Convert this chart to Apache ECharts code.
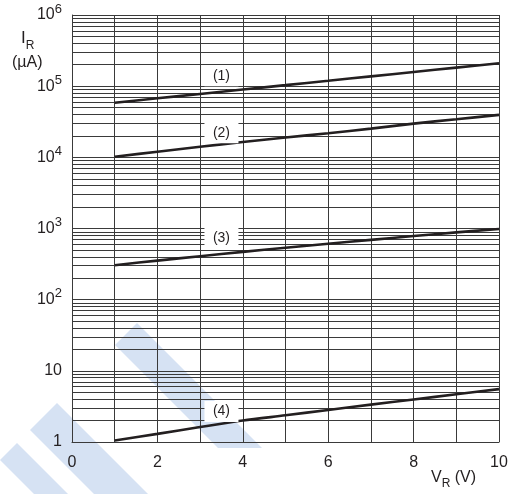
<!DOCTYPE html>
<html><head><meta charset="utf-8">
<script src="https://cdn.jsdelivr.net/npm/echarts@6/dist/echarts.min.js"></script>
<style>html,body{margin:0;padding:0;background:#fff}#c{width:514px;height:494px}</style>
</head><body><div id="c"></div>
<script>
const vr = [1, 2, 3, 4, 5, 6, 7, 8, 9, 10];
const curve1 = [58600, 67600, 77800, 89700, 103300, 119100, 137400, 158100, 182400, 209900];
const curve2 = [10200, 12000, 14100, 16400, 19000, 21800, 25300, 29800, 34300, 39500];
const curve3 = [305, 354, 408, 469, 536, 611, 693, 783, 881, 986];
const curve4 = [1.05, 1.30, 1.62, 2.0, 2.37, 2.82, 3.35, 3.96, 4.68, 5.53];
const curveLabels = ['(1)', '(2)', '(3)', '(4)'];
const labelX = [3.5, 3.5, 3.5, 3.5];
const labelY = [140000, 22200, 731, 2.68];
const yTickLabels = ['{b|1}', '{b|10}', '{b|10}{s|2}', '{b|10}{s|3}', '{b|10}{s|4}', '{b|10}{s|5}', '{b|10}{s|6}'];
const xTickLabels = ['0', '', '2', '', '4', '', '6', '', '8', '', '10'];
const minorMultipliers = [2, 3, 4, 5, 6, 7, 8, 9];
const decades = [1, 10, 100, 1000, 10000, 100000];

const FONT = '"Liberation Sans", Arial, Helvetica, sans-serif';
const INK = '#231f20';
const GRID = '#3a3a3a';
const WM = '#d6e2f3';

const minorLines = [];
decades.forEach(d => minorMultipliers.forEach(m => minorLines.push({ yAxis: d * m })));

function pairs(ys) { return vr.map((x, i) => [x, ys[i]]); }
function curve(ys) {
  return {
    type: 'line', data: pairs(ys), showSymbol: false, smooth: 0.3, z: 5,
    lineStyle: { color: INK, width: 2.6 }, silent: true
  };
}

const chart = echarts.init(document.getElementById('c'), null, { renderer: 'canvas' });
chart.setOption({
  animation: false,
  backgroundColor: '#fff',
  grid: { left: 72, right: 15, top: 15, bottom: 52 },
  xAxis: {
    type: 'value', min: 0, max: 10, interval: 1,
    axisLine: { show: true, lineStyle: { color: GRID, width: 1 } },
    axisTick: { show: false },
    splitLine: { show: true, lineStyle: { color: GRID, width: 1 } },
    axisLabel: {
      margin: 13, fontSize: 16, color: INK, fontFamily: FONT,
      formatter: v => xTickLabels[Math.round(v)]
    }
  },
  yAxis: {
    type: 'log', logBase: 10, min: 1, max: 1000000,
    axisLine: { show: true, lineStyle: { color: GRID, width: 1 } },
    axisTick: { show: false },
    splitLine: { show: true, lineStyle: { color: GRID, width: 1 } },
    axisLabel: {
      margin: 10, color: INK, fontFamily: FONT,
      formatter: v => yTickLabels[Math.round(Math.log10(v))],
      rich: {
        b: { fontSize: 16, color: INK, fontFamily: FONT },
        s: { fontSize: 13, padding: [0, 0, 12, 0], color: INK, fontFamily: FONT }
      }
    }
  },
  graphic: [
    { type: 'polygon', z: -10, silent: true, shape: { points: [[115, 345], [137, 323], [262, 448], [218, 448]] }, style: { fill: WM } },
    { type: 'polygon', z: -10, silent: true, shape: { points: [[30, 430], [57, 403], [148, 494], [94, 494]] }, style: { fill: WM } },
    { type: 'polygon', z: -10, silent: true, shape: { points: [[0, 460], [17, 443], [68, 494], [34, 494]] }, style: { fill: WM } },
    { type: 'text', left: 21, top: 30, silent: true, style: { text: '{i|I}{r|R}', rich: { i: { fontSize: 17, fontFamily: FONT, fill: INK, verticalAlign: 'top', lineHeight: 22 }, r: { fontSize: 12, fontFamily: FONT, fill: INK, verticalAlign: 'bottom', lineHeight: 12 } } } },
    { type: 'text', left: 12, top: 55, silent: true, style: { text: '(µA)', fontSize: 16, fontFamily: FONT, fill: INK } },
    { type: 'text', left: 431, top: 470, silent: true, style: { text: '{v|V}{r|R}{v| (V)}', rich: { v: { fontSize: 16, fontFamily: FONT, fill: INK, verticalAlign: 'top', lineHeight: 20 }, r: { fontSize: 12, fontFamily: FONT, fill: INK, verticalAlign: 'bottom', lineHeight: 12 } } } }
  ],
  series: [
    {
      type: 'line', data: [], silent: true, z: 1,
      markLine: {
        silent: true, symbol: 'none', animation: false,
        label: { show: false },
        lineStyle: { color: GRID, width: 1, type: 'solid' },
        emphasis: { disabled: true },
        data: minorLines
      }
    },
    curve(curve1), curve(curve2), curve(curve3), curve(curve4),
    {
      type: 'scatter', silent: true, z: 6, symbol: 'rect', symbolSize: [34, 21],
      itemStyle: { color: '#fff', opacity: 1 },
      data: labelX.map((x, i) => ({ value: [x, labelY[i]], name: curveLabels[i] })),
      label: {
        show: true, position: 'inside', formatter: p => p.name, opacity: 1,
        fontSize: 14, color: INK, fontFamily: FONT
      }
    }
  ]
});
</script></body></html>
